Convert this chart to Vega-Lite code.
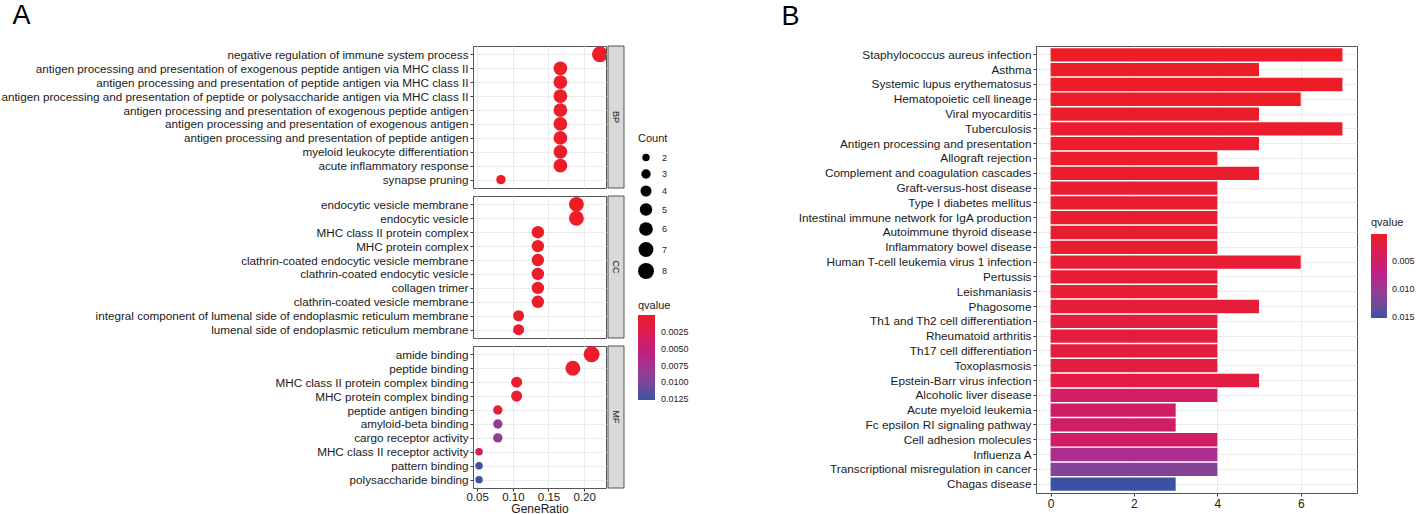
{
"$schema": "https://vega.github.io/schema/vega-lite/v6.json",
"padding": {"left": 0, "top": 2, "right": 0, "bottom": 0},
"background": "white",
"config": {
  "font": "Liberation Sans",
  "view": {"stroke": "#555555", "strokeWidth": 1},
  "axis": {"labelFont": "Liberation Sans", "titleFont": "Liberation Sans", "labelColor": "#1a1a1a", "titleColor": "#1a1a1a", "tickColor": "#333333", "tickSize": 3, "gridColor": "#EBEBEB", "domain": false, "titleFontWeight": "normal", "labelLimit": 0},
  "legend": {"labelFont": "Liberation Sans", "titleFont": "Liberation Sans", "titleFontWeight": "normal", "labelColor": "#1a1a1a", "titleColor": "#1a1a1a"},
  "title": {"font": "Liberation Sans", "fontWeight": "normal", "fontSize": 27, "anchor": "start", "color": "black"}
},
"datasets": {
  "go": [
    {"ont": "BP", "Description": "negative regulation of immune system process", "GeneRatio": 0.2222, "Count": 8, "qvalue": 0.00005},
    {"ont": "BP", "Description": "antigen processing and presentation of exogenous peptide antigen via MHC class II", "GeneRatio": 0.1667, "Count": 6, "qvalue": 0.0002},
    {"ont": "BP", "Description": "antigen processing and presentation of peptide antigen via MHC class II", "GeneRatio": 0.1667, "Count": 6, "qvalue": 0.0002},
    {"ont": "BP", "Description": "antigen processing and presentation of peptide or polysaccharide antigen via MHC class II", "GeneRatio": 0.1667, "Count": 6, "qvalue": 0.0002},
    {"ont": "BP", "Description": "antigen processing and presentation of exogenous peptide antigen", "GeneRatio": 0.1667, "Count": 6, "qvalue": 0.0002},
    {"ont": "BP", "Description": "antigen processing and presentation of exogenous antigen", "GeneRatio": 0.1667, "Count": 6, "qvalue": 0.0002},
    {"ont": "BP", "Description": "antigen processing and presentation of peptide antigen", "GeneRatio": 0.1667, "Count": 6, "qvalue": 0.0002},
    {"ont": "BP", "Description": "myeloid leukocyte differentiation", "GeneRatio": 0.1667, "Count": 6, "qvalue": 0.0003},
    {"ont": "BP", "Description": "acute inflammatory response", "GeneRatio": 0.1667, "Count": 6, "qvalue": 0.0003},
    {"ont": "BP", "Description": "synapse pruning", "GeneRatio": 0.0833, "Count": 3, "qvalue": 0.0003},
    {"ont": "CC", "Description": "endocytic vesicle membrane", "GeneRatio": 0.1892, "Count": 7, "qvalue": 0.00002},
    {"ont": "CC", "Description": "endocytic vesicle", "GeneRatio": 0.1892, "Count": 7, "qvalue": 0.00005},
    {"ont": "CC", "Description": "MHC class II protein complex", "GeneRatio": 0.1351, "Count": 5, "qvalue": 0.0001},
    {"ont": "CC", "Description": "MHC protein complex", "GeneRatio": 0.1351, "Count": 5, "qvalue": 0.0001},
    {"ont": "CC", "Description": "clathrin-coated endocytic vesicle membrane", "GeneRatio": 0.1351, "Count": 5, "qvalue": 0.0001},
    {"ont": "CC", "Description": "clathrin-coated endocytic vesicle", "GeneRatio": 0.1351, "Count": 5, "qvalue": 0.0002},
    {"ont": "CC", "Description": "collagen trimer", "GeneRatio": 0.1351, "Count": 5, "qvalue": 0.0002},
    {"ont": "CC", "Description": "clathrin-coated vesicle membrane", "GeneRatio": 0.1351, "Count": 5, "qvalue": 0.0003},
    {"ont": "CC", "Description": "integral component of lumenal side of endoplasmic reticulum membrane", "GeneRatio": 0.1081, "Count": 4, "qvalue": 0.0004},
    {"ont": "CC", "Description": "lumenal side of endoplasmic reticulum membrane", "GeneRatio": 0.1081, "Count": 4, "qvalue": 0.0004},
    {"ont": "MF", "Description": "amide binding", "GeneRatio": 0.2105, "Count": 8, "qvalue": 0.0001},
    {"ont": "MF", "Description": "peptide binding", "GeneRatio": 0.1842, "Count": 7, "qvalue": 0.0002},
    {"ont": "MF", "Description": "MHC class II protein complex binding", "GeneRatio": 0.1053, "Count": 4, "qvalue": 0.0005},
    {"ont": "MF", "Description": "MHC protein complex binding", "GeneRatio": 0.1053, "Count": 4, "qvalue": 0.0006},
    {"ont": "MF", "Description": "peptide antigen binding", "GeneRatio": 0.0789, "Count": 3, "qvalue": 0.0012},
    {"ont": "MF", "Description": "amyloid-beta binding", "GeneRatio": 0.0789, "Count": 3, "qvalue": 0.0088},
    {"ont": "MF", "Description": "cargo receptor activity", "GeneRatio": 0.0789, "Count": 3, "qvalue": 0.0088},
    {"ont": "MF", "Description": "MHC class II receptor activity", "GeneRatio": 0.0526, "Count": 2, "qvalue": 0.0030},
    {"ont": "MF", "Description": "pattern binding", "GeneRatio": 0.0526, "Count": 2, "qvalue": 0.0125},
    {"ont": "MF", "Description": "polysaccharide binding", "GeneRatio": 0.0526, "Count": 2, "qvalue": 0.0125}
  ],
  "strips": [{"ont": "BP"}, {"ont": "CC"}, {"ont": "MF"}],
  "kegg": [
    {"Description": "Staphylococcus aureus infection", "Count": 7, "qvalue": 0.00023},
    {"Description": "Asthma", "Count": 5, "qvalue": 0.0003},
    {"Description": "Systemic lupus erythematosus", "Count": 7, "qvalue": 0.0003},
    {"Description": "Hematopoietic cell lineage", "Count": 6, "qvalue": 0.0004},
    {"Description": "Viral myocarditis", "Count": 5, "qvalue": 0.0005},
    {"Description": "Tuberculosis", "Count": 7, "qvalue": 0.0006},
    {"Description": "Antigen processing and presentation", "Count": 5, "qvalue": 0.0006},
    {"Description": "Allograft rejection", "Count": 4, "qvalue": 0.0007},
    {"Description": "Complement and coagulation cascades", "Count": 5, "qvalue": 0.0008},
    {"Description": "Graft-versus-host disease", "Count": 4, "qvalue": 0.0009},
    {"Description": "Type I diabetes mellitus", "Count": 4, "qvalue": 0.0009},
    {"Description": "Intestinal immune network for IgA production", "Count": 4, "qvalue": 0.0009},
    {"Description": "Autoimmune thyroid disease", "Count": 4, "qvalue": 0.0010},
    {"Description": "Inflammatory bowel disease", "Count": 4, "qvalue": 0.0010},
    {"Description": "Human T-cell leukemia virus 1 infection", "Count": 6, "qvalue": 0.0012},
    {"Description": "Pertussis", "Count": 4, "qvalue": 0.0013},
    {"Description": "Leishmaniasis", "Count": 4, "qvalue": 0.0013},
    {"Description": "Phagosome", "Count": 5, "qvalue": 0.0015},
    {"Description": "Th1 and Th2 cell differentiation", "Count": 4, "qvalue": 0.0017},
    {"Description": "Rheumatoid arthritis", "Count": 4, "qvalue": 0.0017},
    {"Description": "Th17 cell differentiation", "Count": 4, "qvalue": 0.0019},
    {"Description": "Toxoplasmosis", "Count": 4, "qvalue": 0.0019},
    {"Description": "Epstein-Barr virus infection", "Count": 5, "qvalue": 0.0022},
    {"Description": "Alcoholic liver disease", "Count": 4, "qvalue": 0.0045},
    {"Description": "Acute myeloid leukemia", "Count": 3, "qvalue": 0.0048},
    {"Description": "Fc epsilon RI signaling pathway", "Count": 3, "qvalue": 0.0048},
    {"Description": "Cell adhesion molecules", "Count": 4, "qvalue": 0.0050},
    {"Description": "Influenza A", "Count": 4, "qvalue": 0.0085},
    {"Description": "Transcriptional misregulation in cancer", "Count": 4, "qvalue": 0.0115},
    {"Description": "Chagas disease", "Count": 3, "qvalue": 0.0152}
  ]
},
"columns": 2,
"align": "none",
"spacing": 92,
"concat": [
  {
    "title": {"text": "A", "dx": 12, "offset": 9},
    "columns": 2,
    "spacing": {"row": 6, "column": 0},
    "concat": [
      {
        "data": {"name": "go"},
        "transform": [{"filter": "datum.ont === 'BP'"}],
        "width": 133, "height": 142,
        "mark": {"type": "circle", "opacity": 1, "clip": true},
        "encoding": {
          "x": {"field": "GeneRatio", "type": "quantitative", "scale": {"domain": [0.0441, 0.2307], "nice": false, "zero": false}, "axis": {"orient": "top", "labels": false, "ticks": true, "tickColor": "transparent", "tickSize": 6, "title": null, "values": [0.05, 0.1, 0.15, 0.2], "grid": true}},
          "y": {"field": "Description", "type": "nominal", "sort": null, "scale": {"type": "point", "padding": 0.6}, "axis": {"title": null, "labelFontSize": 11.7, "grid": true, "labelPadding": 2}},
          "size": {"field": "Count", "type": "quantitative", "scale": {"domain": [2, 8], "range": [55, 255]}, "legend": {"title": "Count", "orient": "none", "legendX": 165, "legendY": 87, "values": [2, 3, 4, 5, 6, 7, 8], "symbolFillColor": "black", "symbolStrokeColor": "black", "symbolStrokeWidth": 0, "symbolOpacity": 1, "symbolType": "circle", "labelFontSize": 9, "titleFontSize": 11, "rowPadding": 6, "labelOffset": 8, "titlePadding": 9}},
          "color": {"field": "qvalue", "type": "quantitative", "scale": {"domain": [0.0126, 0.00002], "range": ["#3B51A4", "#B8218C", "#EE1D25"], "interpolate": "lab"}, "legend": {"title": "qvalue", "orient": "none", "legendX": 165, "legendY": 254, "direction": "vertical", "gradientLength": 85, "gradientThickness": 17, "values": [0.0025, 0.005, 0.0075, 0.01, 0.0125], "format": ".4f", "labelFontSize": 9, "titleFontSize": 11, "titlePadding": 4, "labelOffset": 6, "labelOverlap": false}}
        }
      },
      {
        "data": {"name": "strips"},
        "transform": [{"filter": "datum.ont === 'BP'"}],
        "width": 16, "height": 142,
        "view": {"stroke": null},
        "encoding": {
          "x": {"field": "ont", "type": "nominal", "axis": null, "scale": {"paddingInner": 0, "paddingOuter": 0}},
          "y": {"field": "ont", "type": "nominal", "axis": null, "scale": {"paddingInner": 0, "paddingOuter": 0}}
        },
        "layer": [
          {"mark": {"type": "rect", "fill": "#D9D9D9", "stroke": "#555555", "strokeWidth": 1}},
          {"mark": {"type": "text", "angle": 90, "fontSize": 9, "color": "#1a1a1a"}, "encoding": {"text": {"field": "ont"}}}
        ]
      },
      {
        "data": {"name": "go"},
        "transform": [{"filter": "datum.ont === 'CC'"}],
        "width": 133, "height": 142,
        "mark": {"type": "circle", "opacity": 1, "clip": true},
        "encoding": {
          "x": {"field": "GeneRatio", "type": "quantitative", "scale": {"domain": [0.0441, 0.2307], "nice": false, "zero": false}, "axis": {"labels": false, "ticks": false, "title": null, "values": [0.05, 0.1, 0.15, 0.2], "grid": true}},
          "y": {"field": "Description", "type": "nominal", "sort": null, "scale": {"type": "point", "padding": 0.6}, "axis": {"title": null, "labelFontSize": 11.7, "grid": true, "labelPadding": 2}},
          "size": {"field": "Count", "type": "quantitative", "scale": {"domain": [2, 8], "range": [55, 255]}, "legend": {"title": "Count", "orient": "none", "legendX": 165, "legendY": 87, "values": [2, 3, 4, 5, 6, 7, 8], "symbolFillColor": "black", "symbolStrokeColor": "black", "symbolStrokeWidth": 0, "symbolOpacity": 1, "symbolType": "circle", "labelFontSize": 9, "titleFontSize": 11, "rowPadding": 6, "labelOffset": 8, "titlePadding": 9}},
          "color": {"field": "qvalue", "type": "quantitative", "scale": {"domain": [0.0126, 0.00002], "range": ["#3B51A4", "#B8218C", "#EE1D25"], "interpolate": "lab"}, "legend": {"title": "qvalue", "orient": "none", "legendX": 165, "legendY": 254, "direction": "vertical", "gradientLength": 85, "gradientThickness": 17, "values": [0.0025, 0.005, 0.0075, 0.01, 0.0125], "format": ".4f", "labelFontSize": 9, "titleFontSize": 11, "titlePadding": 4, "labelOffset": 6, "labelOverlap": false}}
        }
      },
      {
        "data": {"name": "strips"},
        "transform": [{"filter": "datum.ont === 'CC'"}],
        "width": 16, "height": 142,
        "view": {"stroke": null},
        "encoding": {
          "x": {"field": "ont", "type": "nominal", "axis": null, "scale": {"paddingInner": 0, "paddingOuter": 0}},
          "y": {"field": "ont", "type": "nominal", "axis": null, "scale": {"paddingInner": 0, "paddingOuter": 0}}
        },
        "layer": [
          {"mark": {"type": "rect", "fill": "#D9D9D9", "stroke": "#555555", "strokeWidth": 1}},
          {"mark": {"type": "text", "angle": 90, "fontSize": 9, "color": "#1a1a1a"}, "encoding": {"text": {"field": "ont"}}}
        ]
      },
      {
        "data": {"name": "go"},
        "transform": [{"filter": "datum.ont === 'MF'"}],
        "width": 133, "height": 142,
        "mark": {"type": "circle", "opacity": 1, "clip": true},
        "encoding": {
          "x": {"field": "GeneRatio", "type": "quantitative", "scale": {"domain": [0.0441, 0.2307], "nice": false, "zero": false}, "axis": {"title": "GeneRatio", "titleFontSize": 12, "labelFontSize": 11.5, "values": [0.05, 0.1, 0.15, 0.2], "format": ".2f", "grid": true, "labelPadding": 0, "titlePadding": 1}},
          "y": {"field": "Description", "type": "nominal", "sort": null, "scale": {"type": "point", "padding": 0.6}, "axis": {"title": null, "labelFontSize": 11.7, "grid": true, "labelPadding": 2}},
          "size": {"field": "Count", "type": "quantitative", "scale": {"domain": [2, 8], "range": [55, 255]}, "legend": {"title": "Count", "orient": "none", "legendX": 165, "legendY": 87, "values": [2, 3, 4, 5, 6, 7, 8], "symbolFillColor": "black", "symbolStrokeColor": "black", "symbolStrokeWidth": 0, "symbolOpacity": 1, "symbolType": "circle", "labelFontSize": 9, "titleFontSize": 11, "rowPadding": 6, "labelOffset": 8, "titlePadding": 9}},
          "color": {"field": "qvalue", "type": "quantitative", "scale": {"domain": [0.0126, 0.00002], "range": ["#3B51A4", "#B8218C", "#EE1D25"], "interpolate": "lab"}, "legend": {"title": "qvalue", "orient": "none", "legendX": 165, "legendY": 254, "direction": "vertical", "gradientLength": 85, "gradientThickness": 17, "values": [0.0025, 0.005, 0.0075, 0.01, 0.0125], "format": ".4f", "labelFontSize": 9, "titleFontSize": 11, "titlePadding": 4, "labelOffset": 6, "labelOverlap": false}}
        }
      },
      {
        "data": {"name": "strips"},
        "transform": [{"filter": "datum.ont === 'MF'"}],
        "width": 16, "height": 142,
        "view": {"stroke": null},
        "encoding": {
          "x": {"field": "ont", "type": "nominal", "axis": null, "scale": {"paddingInner": 0, "paddingOuter": 0}},
          "y": {"field": "ont", "type": "nominal", "axis": null, "scale": {"paddingInner": 0, "paddingOuter": 0}}
        },
        "layer": [
          {"mark": {"type": "rect", "fill": "#D9D9D9", "stroke": "#555555", "strokeWidth": 1}},
          {"mark": {"type": "text", "angle": 90, "fontSize": 9, "color": "#1a1a1a"}, "encoding": {"text": {"field": "ont"}}}
        ]
      }
    ]
  },
  {
    "title": {"text": "B", "dx": -16, "offset": 15},
    "data": {"name": "kegg"},
    "width": 321, "height": 447,
    "mark": {"type": "bar"},
    "encoding": {
      "y": {"field": "Description", "type": "nominal", "sort": null, "scale": {"paddingInner": 0.1, "paddingOuter": 0.15}, "axis": {"title": null, "labelFontSize": 11.8, "grid": true, "labelPadding": 2, "bandPosition": 0.5}},
      "x": {"field": "Count", "type": "quantitative", "scale": {"domain": [-0.35, 7.35], "nice": false, "zero": false}, "axis": {"title": null, "values": [0, 2, 4, 6], "labelFontSize": 12, "grid": true, "labelPadding": 2}},
      "color": {"field": "qvalue", "type": "quantitative", "scale": {"domain": [0.0152, 0.0002], "range": ["#3B51A4", "#B8218C", "#EE1D25"], "interpolate": "lab"}, "legend": {"title": "qvalue", "orient": "none", "legendX": 335, "legendY": 171, "direction": "vertical", "gradientLength": 84, "gradientThickness": 16, "values": [0.005, 0.01, 0.015], "format": ".3f", "labelFontSize": 9, "titleFontSize": 11, "titlePadding": 6, "labelOffset": 5, "labelOverlap": false}}
    }
  }
],
"resolve": {"scale": {"color": "independent", "size": "independent"}, "legend": {"color": "independent", "size": "independent"}}
}
